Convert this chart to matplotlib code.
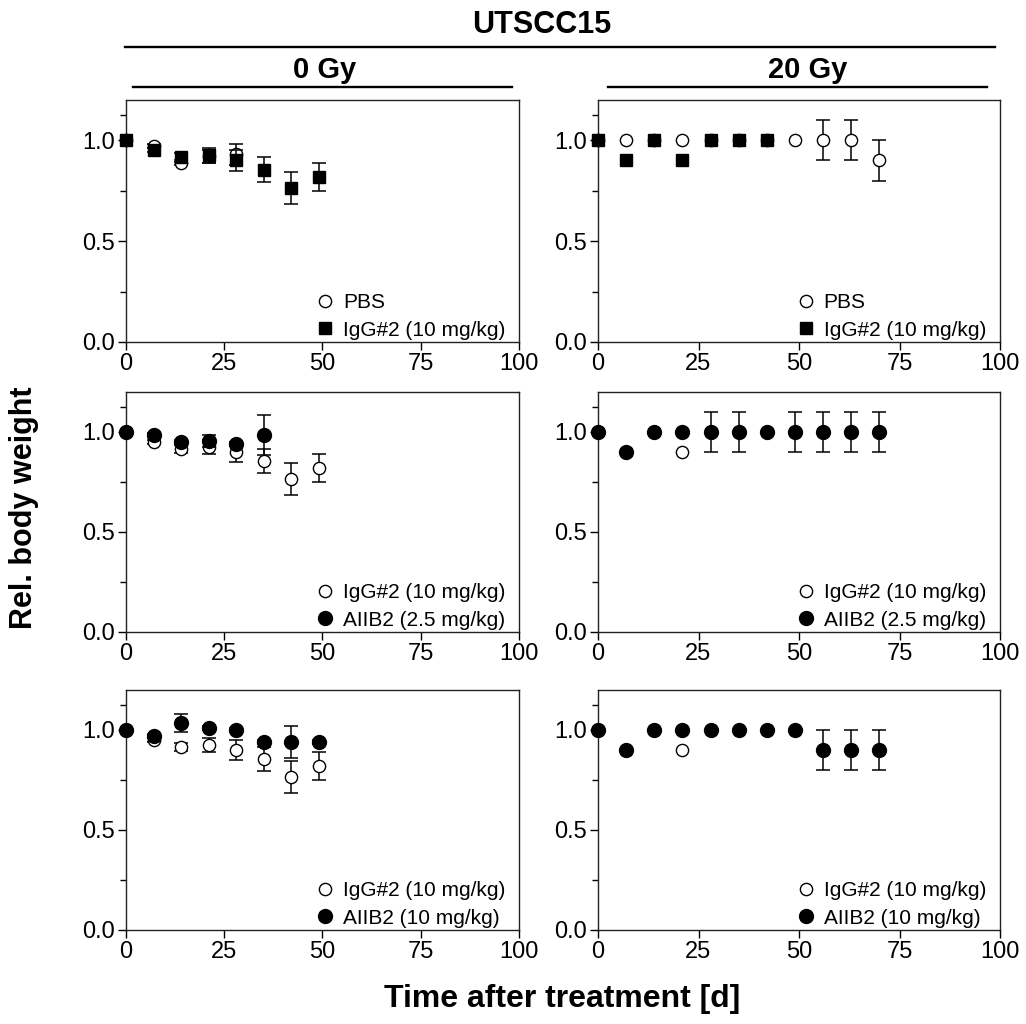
import numpy as np
import matplotlib
matplotlib.use('Agg')
import matplotlib.pyplot as plt
from matplotlib.lines import Line2D
from matplotlib.ticker import FixedLocator, FormatStrFormatter

plt.rcParams['font.family'] = ['Liberation Sans', 'DejaVu Sans']

# measurement days
days_0gy = [0, 7, 14, 21, 28, 35, 42, 49]
days_20gy = [0, 7, 14, 21, 28, 35, 42, 49, 56, 63, 70]

# 0 Gy groups (mean, error)
pbs_0gy = [1.00, 0.97, 0.89, 0.92, 0.93]
pbs_0gy_err = [0, 0.01, 0.01, 0.03, 0.05]
igg_0gy = [1.00, 0.95, 0.915, 0.925, 0.90, 0.855, 0.763, 0.82]
igg_0gy_err = [0, 0.01, 0.02, 0.035, 0.05, 0.06, 0.08, 0.07]
aiib2_low_0gy = [1.00, 0.985, 0.95, 0.955, 0.94, 0.985]
aiib2_low_0gy_err = [0, 0.01, 0.01, 0.03, 0.01, 0.10]
aiib2_high_0gy = [1.00, 0.972, 1.033, 1.008, 1.00, 0.942, 0.942, 0.942]
aiib2_high_0gy_err = [0, 0.01, 0.045, 0.01, 0.01, 0.01, 0.08, 0.01]

# 20 Gy groups (mean, error)
pbs_20gy = [1.0, 1.0, 1.0, 1.0, 1.0, 1.0, 1.0, 1.0, 1.0, 1.0, 0.9]
pbs_20gy_err = [0, 0, 0, 0, 0, 0, 0, 0, 0.1, 0.1, 0.1]
igg_20gy = [1.0, 0.9, 1.0, 0.9, 1.0, 1.0, 1.0]
igg_20gy_err = [0, 0, 0, 0, 0, 0, 0]
aiib2_low_20gy = [1.0, 0.9, 1.0, 1.0, 1.0, 1.0, 1.0, 1.0, 1.0, 1.0, 1.0]
aiib2_low_20gy_err = [0, 0, 0, 0, 0.1, 0.1, 0, 0.1, 0.1, 0.1, 0.1]
aiib2_high_20gy = [1.0, 0.9, 1.0, 1.0, 1.0, 1.0, 1.0, 1.0, 0.9, 0.9, 0.9]
aiib2_high_20gy_err = [0, 0, 0, 0, 0, 0, 0, 0, 0.1, 0.1, 0.1]

lbl_pbs = 'PBS'
lbl_igg = 'IgG#2 (10 mg/kg)'
lbl_low = 'AIIB2 (2.5 mg/kg)'
lbl_high = 'AIIB2 (10 mg/kg)'

open_c = dict(marker='o', mfc='white', mec='black', ms=8.8, mew=1.0, color='black')
square = dict(marker='s', mfc='black', mec='black', ms=9.0, color='black')
filled_c = dict(marker='o', mfc='black', mec='black', ms=10.0, color='black')

W, H = 1026, 1024
fig = plt.figure(figsize=(W / 100, H / 100), dpi=100)

col_px = [(126, 519), (598, 1000)]
row_px = [(100, 342), (392, 632), (690, 930)]

panels = [
    (0, 0, [(days_0gy, pbs_0gy, pbs_0gy_err, open_c, lbl_pbs),
            (days_0gy, igg_0gy, igg_0gy_err, square, lbl_igg)]),
    (0, 1, [(days_20gy, pbs_20gy, pbs_20gy_err, open_c, lbl_pbs),
            (days_20gy, igg_20gy, igg_20gy_err, square, lbl_igg)]),
    (1, 0, [(days_0gy, igg_0gy, igg_0gy_err, open_c, lbl_igg),
            (days_0gy, aiib2_low_0gy, aiib2_low_0gy_err, filled_c, lbl_low)]),
    (1, 1, [(days_20gy, igg_20gy, igg_20gy_err, open_c, lbl_igg),
            (days_20gy, aiib2_low_20gy, aiib2_low_20gy_err, filled_c, lbl_low)]),
    (2, 0, [(days_0gy, igg_0gy, igg_0gy_err, open_c, lbl_igg),
            (days_0gy, aiib2_high_0gy, aiib2_high_0gy_err, filled_c, lbl_high)]),
    (2, 1, [(days_20gy, igg_20gy, igg_20gy_err, open_c, lbl_igg),
            (days_20gy, aiib2_high_20gy, aiib2_high_20gy_err, filled_c, lbl_high)]),
]


def draw_series(ax, days, vals, errs, style, z):
    x = np.array(days[:len(vals)], dtype=float)
    y = np.array(vals)
    e = np.array(errs)
    m = e > 0
    if m.any():
        ax.errorbar(x[m], y[m], yerr=e[m], fmt='none', ecolor='black',
                    elinewidth=1.1, capsize=4.8, capthick=1.1, zorder=z, clip_on=False)
    ax.plot(x, y, linestyle='none', zorder=z + 0.5, clip_on=False, **style)


for r, c, series in panels:
    x0, x1 = col_px[c]
    y0, y1 = row_px[r]
    ax = fig.add_axes([x0 / W, 1 - y1 / H, (x1 - x0) / W, (y1 - y0) / H])
    handles = []
    for i, (d, v, e, st, lb) in enumerate(series):
        draw_series(ax, d, v, e, st, 2 + 2 * i)
        handles.append(Line2D([], [], linestyle='none', **st))
    ax.set_xlim(0, 100)
    ax.set_ylim(0, 1.2)
    ax.set_xticks([0, 25, 50, 75, 100])
    ax.set_yticks([0, 0.5, 1.0])
    ax.yaxis.set_major_formatter(FormatStrFormatter('%.1f'))
    ax.yaxis.set_minor_locator(FixedLocator([0.25, 0.75, 1.125]))
    ax.tick_params(which='major', direction='out', length=6, width=1, labelsize=17, pad=2)
    ax.tick_params(which='minor', direction='out', length=4, width=1)
    for sp in ax.spines.values():
        sp.set_linewidth(1.0)
        sp.set_color('#222222')
    ax.legend(handles, [s[4] for s in series], loc='lower right',
              bbox_to_anchor=(0.965, 0.01), frameon=False, fontsize=15,
              borderpad=0, borderaxespad=0, handlelength=0.8,
              handletextpad=0.45, labelspacing=0.4)

# header with group lines
fig.text(541.7 / W, 1 - 33.3 / H, 'UTSCC15', ha='center', va='baseline',
         fontsize=22, fontweight='bold')
fig.add_artist(Line2D([125 / W, 995 / W], [1 - 46.7 / H] * 2, color='black', lw=1.7))
fig.text(325 / W, 1 - 78.3 / H, '0 Gy', ha='center', va='baseline',
         fontsize=21, fontweight='bold')
fig.add_artist(Line2D([133 / W, 512 / W], [1 - 87.3 / H] * 2, color='black', lw=1.7))
fig.text(808 / W, 1 - 78.3 / H, '20 Gy', ha='center', va='baseline',
         fontsize=21, fontweight='bold')
fig.add_artist(Line2D([608 / W, 987 / W], [1 - 87.3 / H] * 2, color='black', lw=1.7))

fig.text(24 / W, 1 - 507.5 / H, 'Rel. body weight', rotation=90, ha='center', va='center',
         fontsize=22, fontweight='bold')
fig.text(562 / W, 1 - 1006.7 / H, 'Time after treatment [d]', ha='center', va='baseline',
         fontsize=23, fontweight='bold')

fig.savefig('out.png', dpi=100)
